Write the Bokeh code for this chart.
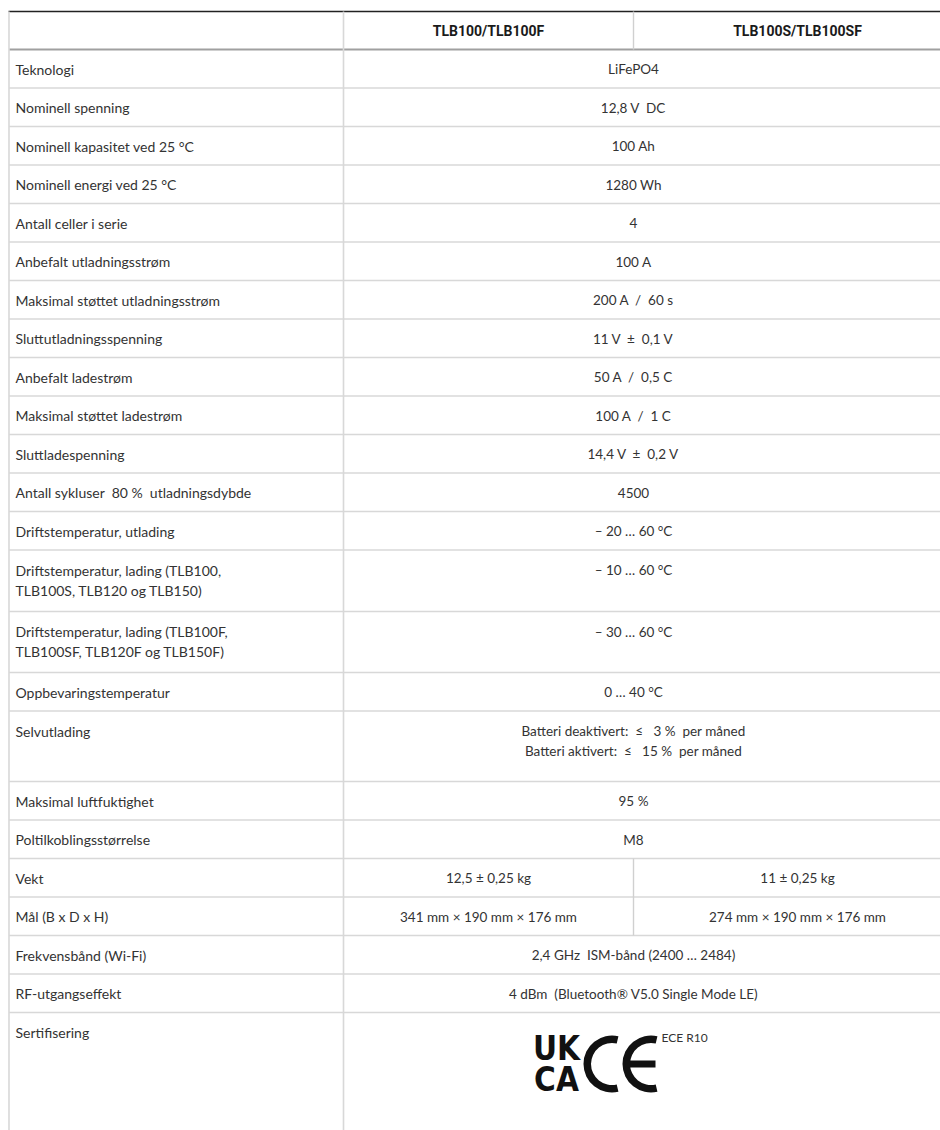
import numpy as np
from bokeh.plotting import figure
from bokeh.models import Range1d
from bokeh.core.properties import value
from bokeh.embed import file_html
from bokeh.resources import INLINE

# ---------------- data ----------------
headers = ["TLB100/TLB100F", "TLB100S/TLB100SF"]

NB = "\u00a0"  # keeps the wider gaps of the original

labels = [
    "Teknologi",
    "Nominell spenning",
    "Nominell kapasitet ved 25 °C",
    "Nominell energi ved 25 °C",
    "Antall celler i serie",
    "Anbefalt utladningsstrøm",
    "Maksimal støttet utladningsstrøm",
    "Sluttutladningsspenning",
    "Anbefalt ladestrøm",
    "Maksimal støttet ladestrøm",
    "Sluttladespenning",
    "Antall sykluser " + NB + "80 % " + NB + "utladningsdybde",
    "Driftstemperatur, utlading",
    "Driftstemperatur, lading (TLB100,\nTLB100S, TLB120 og TLB150)",
    "Driftstemperatur, lading (TLB100F,\nTLB100SF, TLB120F og TLB150F)",
    "Oppbevaringstemperatur",
    "Selvutlading",
    "Maksimal luftfuktighet",
    "Poltilkoblingsstørrelse",
    "Vekt",
    "Mål (B x D x H)",
    "Frekvensbånd (Wi-Fi)",
    "RF-utgangseffekt",
    "Sertifisering",
]

spanned_values = [
    "LiFePO4",
    "12,8 V " + NB + "DC",
    "100 Ah",
    "1280 Wh",
    "4",
    "100 A",
    "200 A " + NB + "/ " + NB + "60 s",
    "11 V " + NB + "± " + NB + "0,1 V",
    "50 A " + NB + "/ " + NB + "0,5 C",
    "100 A " + NB + "/ " + NB + "1 C",
    "14,4 V " + NB + "± " + NB + "0,2 V",
    "4500",
    "– 20 … 60 °C",
    "– 10 … 60 °C",
    "– 30 … 60 °C",
    "0 … 40 °C",
    "Batteri deaktivert: " + NB + "≤ " + NB + " 3 % " + NB + "per måned\n"
    "Batteri aktivert: " + NB + "≤ " + NB + " 15 % " + NB + "per måned",
    "95 %",
    "M8",
    None,
    None,
    "2,4 GHz " + NB + "ISM-bånd (2400 … 2484)",
    "4 dBm " + NB + "(Bluetooth® V5.0 Single Mode LE)",
    None,
]

split_values_a = {19: "12,5 ± 0,25 kg", 20: "341 mm × 190 mm × 176 mm"}
split_values_b = {19: "11 ± 0,25 kg", 20: "274 mm × 190 mm × 176 mm"}

cert_marks = ["UK", "CA"]
cert_text = "ECE R10"

# ---------------- layout (page pixel coordinates) ----------------
W, H = 940, 1130
LEFT, COL1, COL2 = 8.5, 343, 633
COL3_C = 797          # centre of the right-hand column (runs past the page)
SPAN_C = 633          # centre of the merged value cells
TOP = 11
HEADER_H = 38
row_heights = [38.5] * 13 + [61.5, 61, 38.5, 70.5] + [38.5] * 6 + [130]
multi_rows = {13, 14, 16}

row_tops = TOP + HEADER_H + np.concatenate([[0], np.cumsum(row_heights)[:-1]])
row_bottoms = row_tops + np.array(row_heights)

FONT = value("Lato")
LABEL_SIZE = "14px"
VALUE_SIZE = "13.5px"
TXT = "#333333"
NARROW = value("'Liberation Sans Narrow', 'DejaVu Sans Condensed', Roboto")


def Y(v):
    return -np.asarray(v, dtype=float)


p = figure(width=W, height=H, output_backend="svg", toolbar_location=None,
           x_range=Range1d(0, W), y_range=Range1d(-H, 0), min_border=0)
p.axis.visible = False
p.grid.visible = False
p.outline_line_color = None
p.background_fill_color = "white"
p.border_fill_color = "white"

x_end = W + 10
bottom = H + 10

# horizontal lines
hl_y = list(row_tops[1:])
p.segment(x0=[LEFT] * len(hl_y), x1=[x_end] * len(hl_y), y0=Y(hl_y), y1=Y(hl_y),
          line_color="#d8d8d8", line_width=1.6)
p.segment(x0=[LEFT], x1=[x_end], y0=Y([TOP + HEADER_H]), y1=Y([TOP + HEADER_H]),
          line_color="#a0a0a0", line_width=2.2)
p.segment(x0=[LEFT - 0.5], x1=[x_end], y0=Y([TOP]), y1=Y([TOP]),
          line_color="#222222", line_width=1.6)

# vertical lines
p.segment(x0=[LEFT, COL1], x1=[LEFT, COL1], y0=Y([TOP, TOP]), y1=Y([bottom, bottom]),
          line_color="#d8d8d8", line_width=1.6)
mid_top = [TOP, row_tops[19]]
mid_bot = [TOP + HEADER_H, row_bottoms[20]]
p.segment(x0=[COL2] * 2, x1=[COL2] * 2, y0=Y(mid_top), y1=Y(mid_bot),
          line_color="#d0d0d0", line_width=1.4)

# header text
p.text(x=[(COL1 + COL2) / 2, COL3_C], y=Y([TOP + HEADER_H / 2 + 0.5] * 2), text=headers,
       text_font=value("Roboto"), text_font_style="bold", text_font_size="14px",
       text_color="#1a1a1a", text_align="center", text_baseline="middle")


def line_positions(i, n):
    if i in multi_rows or i == len(labels) - 1:
        return [row_tops[i] + 20 + 20 * k for k in range(n)]
    return [row_tops[i] + row_heights[i] / 2 + 0.5]


# label texts
lx, ly, lt = [], [], []
for i, lab in enumerate(labels):
    lines = lab.split("\n")
    for yy, line in zip(line_positions(i, len(lines)), lines):
        lx.append(15)
        ly.append(yy)
        lt.append(line)
p.text(x=lx, y=Y(ly), text=lt, text_font=FONT, text_font_size=LABEL_SIZE,
       text_color=TXT, text_align="left", text_baseline="middle")

# value texts
vx, vy, vt = [], [], []
for i, v in enumerate(spanned_values):
    if v is None:
        continue
    lines = v.split("\n")
    for yy, line in zip(line_positions(i, len(lines)), lines):
        vx.append(SPAN_C)
        vy.append(yy)
        vt.append(line)
for i in split_values_a:
    yy = row_tops[i] + row_heights[i] / 2 + 0.5
    vx += [(COL1 + COL2) / 2, COL3_C]
    vy += [yy, yy]
    vt += [split_values_a[i], split_values_b[i]]
p.text(x=vx, y=Y(vy), text=vt, text_font=FONT, text_font_size=VALUE_SIZE,
       text_color=TXT, text_align="center", text_baseline="middle")

# certification marks
cert_top = row_tops[23]
p.text(x=[556, 556], y=Y([cert_top + 36, cert_top + 67]), text=cert_marks,
       text_font=NARROW, text_font_style="bold", text_font_size="33px",
       text_color="#111111", text_align="center", text_baseline="middle")
ce_y = cert_top + 51.5
R_OUT, R_IN = 28.5, 21
ang = np.deg2rad(77)
p.annular_wedge(x=[611.5, 650.5], y=Y([ce_y, ce_y]), inner_radius=R_IN, outer_radius=R_OUT,
                start_angle=ang, end_angle=2 * np.pi - ang, direction="anticlock",
                fill_color="#111111", line_color=None)
p.rect(x=[640], y=Y([ce_y]), width=30, height=7, fill_color="#111111", line_color=None)
p.text(x=[661], y=Y([cert_top + 25]), text=[cert_text], text_font=FONT,
       text_font_size="12px", text_color=TXT, text_align="left", text_baseline="middle")

open("out.html", "w").write(file_html(p, INLINE))
